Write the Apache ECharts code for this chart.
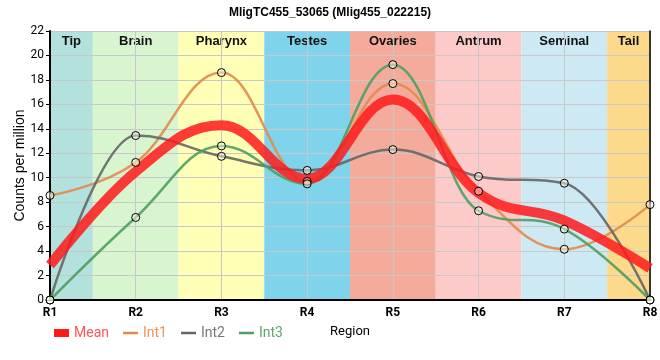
<!DOCTYPE html>
<html><head><meta charset="utf-8">
<script src="https://cdn.jsdelivr.net/npm/echarts@6/dist/echarts.min.js"></script>
<style>html,body{margin:0;padding:0;background:#fff}#c{width:660px;height:360px}</style>
</head><body><div id="c"></div>
<script>
const titleText = 'MligTC455_53065 (Mlig455_022215)';
const regions = ['R1','R2','R3','R4','R5','R6','R7','R8'];
const tissues = ['Tip','Brain','Pharynx','Testes','Ovaries','Antrum','Seminal','Tail'];
const tissueColors = ['#b3e1dd','#d9f5d0','#ffffb5','#7fd3ea','#f4ab9c','#fdcaca','#cdeaf4','#fdd98c'];
const meanVals = [2.85, 10.5, 14.3, 9.9, 16.4, 8.75, 6.5, 2.6];
const int1Vals = [8.55, 11.25, 18.6, 9.7, 17.7, 8.9, 4.15, 7.8];
const int2Vals = [0, 13.45, 11.75, 10.6, 12.3, 10.1, 9.55, 0];
const int3Vals = [0, 6.75, 12.6, 9.5, 19.25, 7.3, 5.8, 0];
const yTicks = {min: 0, max: 22, interval: 2};

const seriesDefs = [
  {name: 'Int1', vals: int1Vals, color: '#e08c4c', width: 2.5, opacity: 0.9},
  {name: 'Int2', vals: int2Vals, color: '#666666', width: 2.5, opacity: 0.9},
  {name: 'Int3', vals: int3Vals, color: '#4f9f5f', width: 2.5, opacity: 0.9},
  {name: 'Mean', vals: meanVals, color: '#ff1a1a', width: 10, opacity: 0.85}
];

// spline through the points: control handles at 0.4 of each segment,
// made horizontal at local extremes
function splinePath(pts) {
  const n = pts.length, sm = 1.5, den = sm + 1;
  const L = [], R = [];
  for (let i = 0; i < n; i++) {
    if (i === 0 || i === n - 1) { L.push(pts[i].slice()); R.push(pts[i].slice()); continue; }
    const [x, y] = pts[i], [lx, ly] = pts[i-1], [nx, ny] = pts[i+1];
    let lcx = (sm * x + lx) / den, lcy = (sm * y + ly) / den;
    let rcx = (sm * x + nx) / den, rcy = (sm * y + ny) / den;
    let corr = 0;
    if (rcx !== lcx) corr = ((rcy - lcy) * (rcx - x)) / (rcx - lcx) + y - rcy;
    lcy += corr; rcy += corr;
    if (lcy > ly && lcy > y) { lcy = Math.max(ly, y); rcy = 2 * y - lcy; }
    else if (lcy < ly && lcy < y) { lcy = Math.min(ly, y); rcy = 2 * y - lcy; }
    if (rcy > ny && rcy > y) { rcy = Math.max(ny, y); lcy = 2 * y - rcy; }
    else if (rcy < ny && rcy < y) { rcy = Math.min(ny, y); lcy = 2 * y - rcy; }
    L.push([lcx, lcy]); R.push([rcx, rcy]);
  }
  let d = 'M' + pts[0][0] + ',' + pts[0][1];
  for (let i = 1; i < n; i++) {
    d += ' C' + R[i-1][0] + ',' + R[i-1][1] + ' ' + L[i][0] + ',' + L[i][1] + ' ' + pts[i][0] + ',' + pts[i][1];
  }
  return d;
}

const chart = echarts.init(document.getElementById('c'), null, {renderer: 'canvas'});

const series = [];
series.push({
  type: 'custom', name: 'bands', z: -1, silent: true,
  data: tissues.map((t, i) => [i, 0]),
  renderItem: function (params, api) {
    const i = api.value(0);
    const c = api.coord([i, 0]);
    const w = api.size([1, 0])[0];
    const cs = params.coordSys;
    const x0 = Math.max(cs.x, c[0] - w / 2), x1 = Math.min(cs.x + cs.width, c[0] + w / 2);
    return {
      type: 'group',
      children: [
        {type: 'rect', shape: {x: x0, y: cs.y, width: x1 - x0, height: cs.height},
         style: {fill: tissueColors[i]}},
        {type: 'text', style: {text: tissues[i], x: (x0 + x1) / 2, y: cs.y + 4,
          align: 'center', verticalAlign: 'top', fill: '#111',
          font: 'bold 13px "Liberation Sans", Arial, sans-serif'}}
      ]
    };
  }
});
seriesDefs.forEach(def => {
  series.push({
    type: 'custom', name: def.name, z: 3,
    itemStyle: {color: def.color},
    data: def.vals.map((v, i) => [i, v]),
    renderItem: function (params, api) {
      if (params.dataIndex !== 0) return null;
      const pts = def.vals.map((v, i) => api.coord([i, v]));
      return {type: 'path', shape: {pathData: splinePath(pts)},
        style: {fill: 'none', stroke: def.color, lineWidth: def.width, opacity: def.opacity, lineCap: 'butt'}};
    }
  });
});
seriesDefs.filter(d => d.name !== 'Mean').forEach(def => {
  series.push({
    type: 'scatter', name: def.name + ' pts', z: 5, symbol: 'circle', symbolSize: 8,
    data: def.vals.map((v, i) => [i, v]),
    itemStyle: {color: 'rgba(255,255,240,0.45)', borderColor: '#000', borderWidth: 1, opacity: 1},
    emphasis: {disabled: true}
  });
});

chart.setOption({
  animation: false,
  title: {text: titleText, left: 'center', top: 2,
    textStyle: {fontSize: 12, fontWeight: 'bold', color: '#000', fontFamily: '"Liberation Sans", Arial, sans-serif'}},
  grid: {left: 50, right: 10, top: 31, bottom: 60, containLabel: false, outerBoundsMode: 'none'},
  legend: {
    left: 49, top: 321, itemWidth: 15, itemHeight: 8, itemGap: 14,
    textStyle: {fontSize: 14, fontFamily: 'Roboto, sans-serif'},
    data: [
      {name: 'Mean', icon: 'rect', textStyle: {color: '#ff5555'}},
      {name: 'Int1', icon: 'path://M0,0H15V2.5H0Z', textStyle: {color: '#e8955a'}},
      {name: 'Int2', icon: 'path://M0,0H15V2.5H0Z', textStyle: {color: '#777777'}},
      {name: 'Int3', icon: 'path://M0,0H15V2.5H0Z', textStyle: {color: '#5aa56a'}}
    ]
  },
  xAxis: [{
    type: 'category', data: regions, boundaryGap: false,
    name: 'Region', nameLocation: 'middle', nameGap: 25, nameMoveOverlap: false,
    nameTextStyle: {fontSize: 13, color: '#000', fontFamily: 'Roboto, sans-serif'},
    axisLine: {lineStyle: {color: '#000', width: 2}},
    axisTick: {show: false},
    axisLabel: {color: '#000', fontSize: 12, fontWeight: 'bold', margin: 7, fontFamily: 'Roboto, sans-serif'},
    splitLine: {show: true, lineStyle: {color: '#c8c8c8', width: 1}}
  }, {
    type: 'category', data: regions, boundaryGap: false, position: 'top',
    axisLine: {lineStyle: {color: '#000', width: 1.5}},
    axisTick: {show: false}, axisLabel: {show: false}, splitLine: {show: false}
  }],
  yAxis: [{
    type: 'value', min: yTicks.min, max: yTicks.max, interval: yTicks.interval,
    name: 'Counts per million', nameLocation: 'middle', nameGap: 23, nameMoveOverlap: false,
    nameTextStyle: {fontSize: 14, color: '#000', fontFamily: '"Liberation Sans", Arial, sans-serif'},
    axisLine: {show: true, lineStyle: {color: '#000', width: 2}},
    axisTick: {show: true, length: 4, lineStyle: {color: '#000'}},
    axisLabel: {color: '#000', fontSize: 12, margin: 6, fontFamily: 'Roboto, sans-serif'},
    splitLine: {show: true, lineStyle: {color: '#c8c8c8', width: 1}}
  }, {
    type: 'value', min: yTicks.min, max: yTicks.max, interval: yTicks.interval, position: 'right',
    axisLine: {show: true, lineStyle: {color: '#000', width: 1.5}},
    axisTick: {show: false}, axisLabel: {show: false}, splitLine: {show: false}
  }],
  series: series
});
</script>
</body></html>
